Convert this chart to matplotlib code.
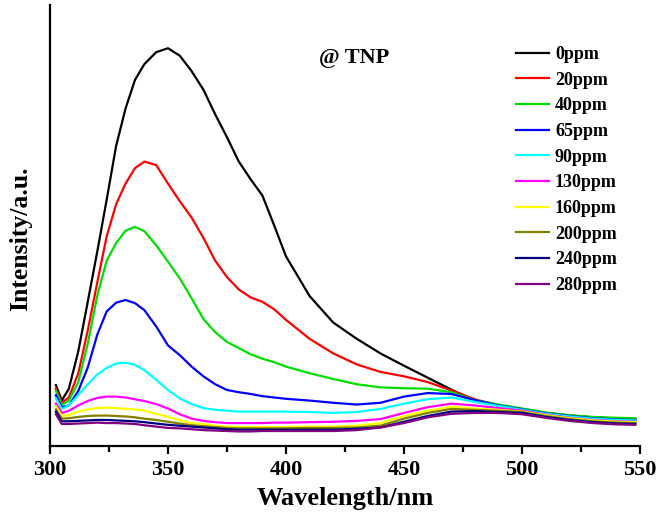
import matplotlib
matplotlib.use("Agg")
import matplotlib.pyplot as plt
from matplotlib.ticker import MultipleLocator

wavelength = [302.5, 305, 308, 312, 316, 320, 324, 328, 332, 336, 340, 345, 350, 355,
              360, 365, 370, 375, 380, 385, 390, 395, 400, 410, 420, 430, 440, 450,
              460, 470, 480, 490, 500, 510, 520, 530, 540, 548]

labels = ["0ppm", "20ppm", "40ppm", "65ppm", "90ppm", "130ppm", "160ppm",
          "200ppm", "240ppm", "280ppm"]
colors = ["#000000", "#FF0000", "#00E000", "#0000FF", "#00FFFF", "#FF00FF",
          "#FFFF00", "#808000", "#000080", "#800080"]

i_0 = [138, 103, 130, 215, 327, 440, 558, 680, 765, 830, 866, 893, 902, 885,
       850, 808, 752, 700, 645, 605, 568, 500, 430, 340, 280, 243, 210, 182,
       155, 128, 103, 92, 84, 75, 69, 65, 62, 61]
i_20 = [130, 98, 110, 165, 262, 370, 475, 548, 595, 630, 645, 637, 595, 555,
        518, 472, 420, 383, 355, 337, 327, 310, 286, 243, 210, 185, 168, 158,
        145, 126, 106, 92, 84, 75, 69, 65, 62, 61]
i_40 = [125, 93, 103, 145, 232, 340, 420, 460, 488, 497, 487, 455, 418, 380,
        335, 288, 258, 236, 222, 208, 198, 190, 180, 165, 152, 140, 133, 131,
        130, 122, 104, 94, 85, 76, 70, 66, 64, 63]
i_65 = [115, 88, 92, 125, 178, 252, 305, 325, 331, 324, 308, 271, 228, 206,
        180, 158, 140, 127, 122, 118, 113, 110, 107, 103, 98, 94, 98, 112,
        120, 118, 104, 92, 83, 74, 68, 63, 60, 59]
i_90 = [108, 84, 92, 116, 140, 162, 177, 187, 189, 184, 172, 150, 127, 108,
        95, 86, 82, 80, 78, 78, 78, 78, 78, 77, 75, 77, 84, 96,
        106, 110, 100, 91, 82, 73, 67, 62, 59, 58]
i_130 = [96, 75, 80, 92, 102, 109, 112, 112, 110, 106, 102, 95, 85, 72,
         62, 57, 54, 52, 52, 52, 52, 53, 53, 54, 55, 57, 61, 75,
         88, 96, 92, 86, 80, 71, 64, 59, 56, 55]
i_160 = [90, 68, 70, 78, 83, 86, 87, 86, 84, 83, 80, 73, 66, 58,
         52, 50, 46, 44, 43, 43, 43, 43, 43, 44, 44, 46, 52, 68,
         80, 89, 85, 82, 78, 70, 63, 58, 55, 54]
i_200 = [83, 62, 63, 66, 68, 69, 69, 68, 67, 65, 62, 59, 55, 51,
         47, 45, 43, 41, 40, 40, 40, 40, 40, 41, 41, 42, 46, 62,
         75, 84, 82, 80, 77, 68, 61, 56, 53, 52]
i_240 = [78, 56, 56, 57, 58, 59, 59, 58, 57, 56, 54, 51, 48, 46,
         44, 42, 40, 38, 37, 37, 37, 37, 37, 37, 37, 39, 42, 55,
         68, 78, 79, 77, 75, 66, 59, 54, 51, 50]
i_280 = [72, 50, 50, 51, 52, 53, 52, 52, 51, 50, 47, 44, 41, 40,
         38, 36, 35, 34, 33, 33, 34, 34, 34, 34, 34, 36, 42, 52,
         65, 73, 75, 75, 72, 64, 57, 52, 49, 48]

series = [i_0, i_20, i_40, i_65, i_90, i_130, i_160, i_200, i_240, i_280]

plt.rcParams['font.family'] = ['Liberation Serif', 'DejaVu Serif']
plt.rcParams['font.weight'] = 'bold'

fig = plt.figure(figsize=(6.6, 5.24), dpi=100)
ax = fig.add_axes([50/660, 78/524, 590/660, 441/524])

for vals, lab, col in zip(series, labels, colors):
    ax.plot(wavelength, vals, color=col, lw=1.6, label=lab)

ax.set_xlim(300, 550)
ax.set_ylim(0, 1000)
ax.spines['top'].set_visible(False)
ax.spines['right'].set_visible(False)
ax.spines['left'].set_linewidth(1.6)
ax.spines['bottom'].set_linewidth(1.6)
ax.set_yticks([])
ax.xaxis.set_major_locator(MultipleLocator(50))
ax.xaxis.set_minor_locator(MultipleLocator(25))
ax.tick_params(axis='x', which='major', length=6, width=1.6, direction='out',
               labelsize=16, pad=4)
ax.tick_params(axis='x', which='minor', length=4, width=1.6, direction='out')
for t in ax.get_xticklabels():
    t.set_fontweight('bold')

ax.set_xlabel("Wavelength/nm", fontsize=19, fontweight='bold', labelpad=5)
ax.set_ylabel("Intensity/a.u.", fontsize=18.5, fontweight='bold')
ax.yaxis.set_label_coords(-0.031, 0.469)

ax.text(0.515, 0.88, "@ TNP", transform=ax.transAxes, fontsize=16,
        fontweight='bold', ha='center', va='center')

leg = ax.legend(loc='upper left', bbox_to_anchor=(0.79, 0.907), frameon=False,
                fontsize=13, handlelength=1.8, handletextpad=0.35,
                labelspacing=0.48, borderaxespad=0, borderpad=0)
for t in leg.get_texts():
    t.set_fontweight('bold')

fig.savefig("out.png", dpi=100)
